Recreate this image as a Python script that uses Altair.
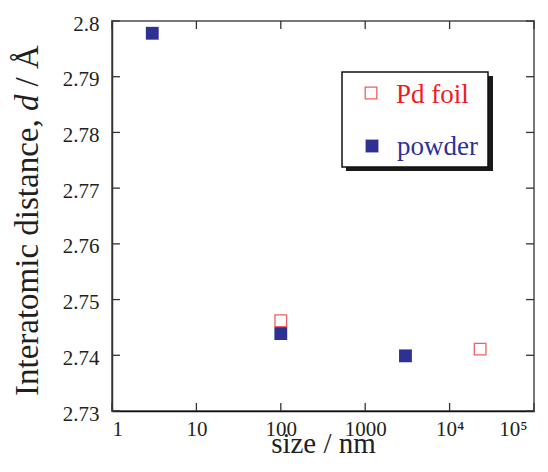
import altair as alt
import pandas as pd

# ---- data ----
series = ["Pd foil", "powder"]
pd_size = [100, 23000]
pd_dist = [2.7462, 2.7411]
powder_size = [3, 100, 3000]
powder_dist = [2.7978, 2.7439, 2.7399]

x_ticks = [1, 10, 100, 1000, 10000, 100000]
x_tick_labels = ["1", "10", "100", "1000", "10⁴", "10⁵"]
y_ticks = [2.73, 2.74, 2.75, 2.76, 2.77, 2.78, 2.79, 2.80]
y_tick_labels = ["2.73", "2.74", "2.75", "2.76", "2.77", "2.78", "2.79", "2.8"]

x_title = "size / nm"
y_title_parts = ["Interatomic distance,", "d", "/ Å"]

# ---- styling ----
W, H = 422, 390
FONT = "Times New Roman, Liberation Serif, Times, serif"
INK = "#231f20"
RED = "#ec1c24"
NAVY = "#2e3192"


def label_expr(values, labels):
    parts = [f"datum.value == {v} ? '{l}'" for v, l in zip(values, labels)]
    return " : ".join(parts) + " : ''"


x_scale = alt.Scale(type="log", domain=[x_ticks[0], x_ticks[-1]], nice=False)
y_scale = alt.Scale(domain=[y_ticks[0], y_ticks[-1]], nice=False, zero=False)

X_AXIS = alt.Axis(
    values=x_ticks, labelExpr=label_expr(x_ticks, x_tick_labels),
    ticks=False, tickSize=0, grid=False, labelPadding=7,
    labelOffset={"condition": {"test": f"datum.value == {x_ticks[-1]}", "value": -7}, "value": 0},
    labelFont=FONT, labelFontSize=21, labelColor=INK,
    domainColor="#111", domainWidth=1.5,
    title=x_title, titleFont=FONT, titleFontSize=29, titleFontWeight="normal",
    titleColor=INK, titleBaseline="alphabetic", titleY=41,
)
Y_AXIS = alt.Axis(
    values=y_ticks, labelExpr=label_expr(y_ticks, y_tick_labels),
    ticks=False, tickSize=0, grid=False, labelPadding=13, labelOffset=3,
    labelFont=FONT, labelFontSize=21, labelColor=INK,
    domainColor="#333", domainWidth=1.5, title=None,
)

xenc = alt.X("size:Q", scale=x_scale, axis=X_AXIS)
yenc = alt.Y("d:Q", scale=y_scale, axis=Y_AXIS)

pd_df = pd.DataFrame({"size": pd_size, "d": pd_dist, "series": series[0]})
powder_df = pd.DataFrame({"size": powder_size, "d": powder_dist, "series": series[1]})

pd_layer = alt.Chart(pd_df).mark_point(
    shape="square", filled=False, color=RED, strokeWidth=1.3, size=135
).encode(x=xenc, y=yenc)

powder_layer = alt.Chart(powder_df).mark_square(
    color=NAVY, size=165, opacity=1
).encode(x=xenc, y=yenc)

# inward ticks on all four sides
xt = pd.DataFrame({"size": x_ticks})
yt = pd.DataFrame({"d": y_ticks})
tick_style = dict(color="#333", strokeWidth=1.3)
bottom_ticks = alt.Chart(xt).mark_rule(**tick_style).encode(
    x=xenc, y=alt.value(H), y2=alt.value(H - 8))
top_ticks = alt.Chart(xt).mark_rule(**tick_style).encode(
    x=xenc, y=alt.value(0), y2=alt.value(8))
left_ticks = alt.Chart(yt).mark_rule(**tick_style).encode(
    y=yenc, x=alt.value(0), x2=alt.value(8))
right_ticks = alt.Chart(yt).mark_rule(**tick_style).encode(
    y=yenc, x=alt.value(W), x2=alt.value(W - 8))

# y-axis title with italic d
one = pd.DataFrame({"t": [0]})
title_layers = []
y_pos = [375, 375 - 285, 375 - 285 - 16.5 - 8]
for txt, yy, style in zip(y_title_parts, y_pos, ["normal", "italic", "normal"]):
    title_layers.append(
        alt.Chart(pd.DataFrame({"label": [txt]})).mark_text(
            angle=270, align="left", baseline="alphabetic", font=FONT,
            fontSize=33, fontStyle=style, color=INK,
        ).encode(x=alt.value(-74.5), y=alt.value(yy), text="label:N")
    )

# hand-drawn legend with drop shadow
shadow = alt.Chart(one).mark_rect(color="#1a1a1a").encode(
    x=alt.value(234), x2=alt.value(381), y=alt.value(55), y2=alt.value(150))
box = alt.Chart(one).mark_rect(fill="white", stroke="#111", strokeWidth=1.5).encode(
    x=alt.value(230), x2=alt.value(376), y=alt.value(51), y2=alt.value(146))
leg_pd_mark = alt.Chart(one).mark_point(
    shape="square", filled=False, color=RED, strokeWidth=1.3, size=135
).encode(x=alt.value(259), y=alt.value(72))
leg_pw_mark = alt.Chart(one).mark_square(color=NAVY, size=165, opacity=1).encode(
    x=alt.value(260), y=alt.value(125))
leg_pd_text = alt.Chart(pd.DataFrame({"label": [series[0]]})).mark_text(
    align="left", baseline="alphabetic", font=FONT, fontSize=27, color=RED
).encode(x=alt.value(284), y=alt.value(82), text="label:N")
leg_pw_text = alt.Chart(pd.DataFrame({"label": [series[1]]})).mark_text(
    align="left", baseline="alphabetic", font=FONT, fontSize=27, color=NAVY
).encode(x=alt.value(285), y=alt.value(134), text="label:N")

chart = alt.layer(
    bottom_ticks, top_ticks, left_ticks, right_ticks,
    pd_layer, powder_layer,
    *title_layers,
    shadow, box, leg_pd_mark, leg_pw_mark, leg_pd_text, leg_pw_text,
).properties(
    width=W, height=H,
    autosize=alt.AutoSizeParams(type="none"),
    padding={"left": 104, "top": 13, "right": 6, "bottom": 48},
    background="white",
).configure_view(
    stroke="#777", strokeWidth=2
)

chart.save("out.html", embed_options={"renderer": "svg", "actions": False})
